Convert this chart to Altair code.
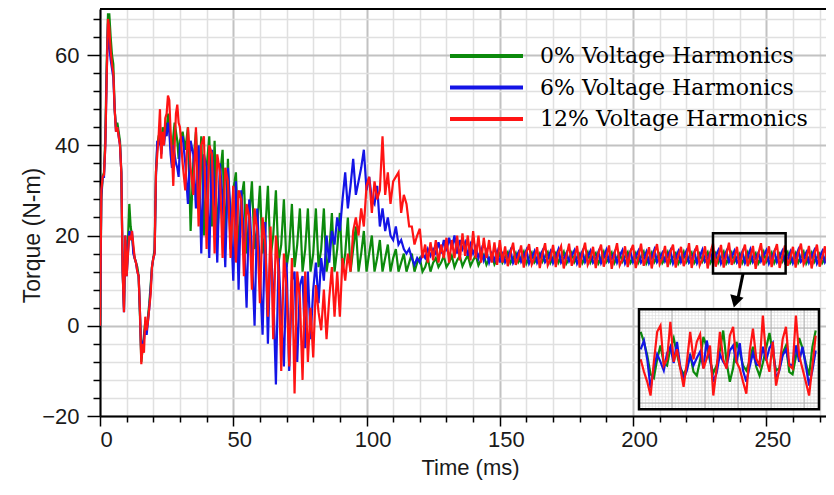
import numpy as np
import pandas as pd
import altair as alt

# ---------------- data ----------------
series_names = ["0% Voltage Harmonics", "6% Voltage Harmonics", "12% Voltage Harmonics"]
series_colors = ["#0c8a0c", "#1414e6", "#ff1414"]

# 0 - 29.5 ms, every 0.5 ms
early_step_ms = 0.5
green_early = [0, 28, 33, 34, 42, 58, 69, 69, 64, 60,
               58, 48, 44, 45, 43, 41, 34, 12, 4, 19,
               12, 19, 27, 22, 20, 17, 15, 14, 13, 11,
               2, -8, -5, -2, 1, -1, 2, 5, 9, 13,
               15, 17, 34, 40, 42, 43, 40, 44, 41, 45,
               43, 47, 44, 40, 36, 42, 45, 43, 41, 37]
blue_early = [0, 29, 33, 33, 40, 55, 67, 62, 59, 57,
              55, 48, 43, 44, 42, 40, 34, 12, 3, 20,
              11, 16, 21, 19, 21, 16, 15, 14, 12, 11,
              3, -7, -4, -3, 0, -2, 1, 4, 8, 13,
              15, 16, 33, 41, 40, 42, 38, 42, 40, 43,
              42, 45, 43, 38, 35, 40, 38, 36, 35, 33]
red_early = [0, 30, 33, 33.5, 40, 55, 68, 66, 61, 58,
             56, 48, 43, 44, 42, 40, 34, 12, 3, 20,
             11, 16, 20, 19, 21, 18, 15, 14, 12, 11,
             3, -8.5, -4, -6, 2, -1, 1, 4, 7, 13,
             15, 16, 34, 38, 42, 48, 37, 43, 40, 46,
             47, 51, 50, 43, 38, 31, 40, 47, 49, 45]

# from 30 ms on, every 1 ms
tail_start_ms = 30
green_tail = [41, 43, 39, 44, 21, 36, 43, 30, 42, 20,
              35, 42, 22, 41, 19, 33, 39, 18, 37, 17,
              30, 34, 16, 28, 32, 16, 24, 32, 17, 22,
              31, 16, 21, 31, 15, 20, 30, 14, 18, 28,
              13, 17, 27, 13, 18, 26, 12, 17, 26, 12,
              16, 26, 13, 17, 26, 12, 16, 25, 12, 17,
              25, 12, 16, 24, 12, 17, 22, 12, 16, 21,
              12, 16, 20, 12, 15, 19, 12, 15, 18, 12,
              15, 17, 12, 14, 16, 12, 14, 16, 12, 14,
              15, 12, 13, 15, 12, 14, 15, 13, 14, 15.5,
              13, 14, 15.5, 13, 14.5, 15.5, 13.2, 14.5, 15.6, 13.3,
              14.5, 15.6, 13.4, 14.6, 15.7, 13.5, 14.8, 15.8, 13.6, 14.8,
              16.0, 14.0, 15.2, 16.3, 13.9, 14.9, 16.1, 14.1, 15.0, 16.4,
              13.8, 15.1, 16.2, 14.0, 14.8, 16.0, 14.2, 15.3, 16.3, 13.9,
              15.0, 16.1, 14.0, 15.2, 16.4, 13.8, 14.9, 16.2, 14.1, 15.1,
              16.0, 13.9, 15.0, 16.3, 14.0, 15.2, 16.1, 13.8, 14.9, 16.4,
              14.1, 15.0, 16.2, 13.9, 15.1, 16.0, 14.2, 15.3, 16.3, 13.9,
              14.8, 16.1, 14.0, 15.2, 16.4, 13.8, 15.0, 16.2, 14.1, 15.1,
              16.0, 13.9, 14.9, 16.3, 14.0, 15.2, 16.1, 13.8, 15.0, 16.4,
              14.1, 15.1, 16.2, 13.9, 14.8, 16.0, 14.2, 15.3, 16.3, 13.9,
              15.0, 16.1, 14.0, 15.2, 16.4, 13.8, 14.9, 16.2, 14.1, 15.1,
              16.0, 13.9, 15.0, 16.3, 14.0, 15.2, 16.1, 13.8, 14.9, 16.4,
              14.1, 15.0, 16.2, 13.9, 15.1, 16.0, 14.2, 15.3, 16.3, 13.9,
              14.8, 16.1, 14.0, 15.2, 16.4, 13.8, 15.0, 16.2, 14.1, 15.1,
              16.0, 13.9, 14.9, 16.3, 14.0, 15.2]
blue_tail = [40, 42, 36, 27, 41, 38, 26, 40, 16, 38,
             35, 15, 39, 30, 14, 36, 28, 13, 35, 25,
             10, 32, 8, 30, 20, 4, 28, 16, 0, 26,
             12, -2, 23, -4, 18, 8, -13, 15, 2, -9,
             14, -10, 10, 12, -8, 9, 11, -5, 12, -3,
             8, 14, 5, 15, 10, 20, 14, 21, 18, 24,
             21, 28, 34, 26, 31, 37, 29, 32, 35, 39,
             30, 33, 28, 27, 31, 22, 26, 21, 24, 20,
             19, 22, 18, 19, 17, 16, 17, 15, 13.5, 15,
             14, 16, 15, 17, 15.5, 17, 16, 18.5, 16, 19,
             16.5, 19.5, 17, 20, 16, 19, 17, 18.5, 15.5, 18,
             16, 17.5, 15, 17, 14.5, 16.5, 14, 16, 14.5, 16.5,
             14.0, 16.4, 14.1, 15.2, 16.7, 13.9, 15.0, 16.3, 14.2, 15.4,
             16.8, 13.8, 15.1, 16.5, 14.0, 15.3, 16.6, 14.1, 14.9, 16.4,
             13.9, 15.2, 16.9, 14.0, 15.0, 16.2, 14.3, 15.5, 16.7, 13.8,
             15.1, 16.5, 14.1, 15.3, 16.6, 14.0, 14.8, 16.4, 13.9, 15.2,
             16.8, 14.2, 15.0, 16.3, 14.0, 15.4, 16.7, 13.8, 15.1, 16.5,
             14.1, 15.3, 16.6, 14.0, 14.9, 16.4, 13.9, 15.2, 16.9, 14.1,
             15.0, 16.2, 14.3, 15.5, 16.7, 13.8, 15.1, 16.5, 14.1, 15.3,
             16.6, 14.0, 14.8, 16.4, 13.9, 15.2, 16.8, 14.2, 15.0, 16.3,
             14.0, 15.4, 16.7, 13.8, 15.1, 16.5, 14.1, 15.3, 16.6, 14.0,
             14.9, 16.4, 13.9, 15.2, 16.9, 14.1, 15.0, 16.2, 14.3, 15.5,
             16.7, 13.8, 15.1, 16.5, 14.1, 15.3, 16.6, 14.0, 14.8, 16.4,
             13.9, 15.2, 16.8, 14.2, 15.0, 16.3, 14.0, 15.4, 16.7, 13.8,
             15.1, 16.5, 14.1, 15.3, 16.6, 14.0]
red_tail = [44, 36, 30, 44, 35, 29, 44, 22, 40, 42,
            17, 40, 38, 16, 38, 34, 15, 35, 32, 15,
            31, 14, 30, 28, 11, 27, 24, 8, 26, 21,
            5, 24, 18, 2, 22, -3, 20, 12, -10, 16,
            8, -9, 15, -15, 12, 6, -12, 12, -8, 4,
            -7, 9, 3, -1, 8, -3, 6, 13, 2, 12,
            2, 15, 10, 16, 12, 21, 24, 20, 26, 22,
            31, 33, 25, 32, 28, 30, 42, 29, 34, 27,
            32, 33, 34, 25, 29, 27, 22, 22, 18, 20,
            21.5, 15, 18, 14, 18.5, 14.5, 19, 14, 18, 15,
            19.5, 14, 19, 15, 20, 14.5, 20.5, 15.5, 20, 14.5,
            21, 15, 20, 14, 19.5, 15, 19, 14, 18.5, 13.5,
            19.0, 14.0, 17.6, 13.2, 16.0, 18.4, 13.5, 15.2, 17.8, 12.9,
            16.3, 18.1, 13.6, 15.0, 17.4, 12.8, 15.9, 18.3, 13.4, 14.8,
            17.9, 13.0, 16.2, 17.6, 12.7, 15.4, 18.2, 13.3, 15.1, 17.7,
            12.9, 16.0, 18.4, 13.5, 14.9, 17.5, 12.8, 16.1, 18.0, 13.1,
            15.3, 17.8, 12.6, 15.8, 18.3, 13.4, 14.7, 17.6, 13.0, 16.4,
            17.9, 12.8, 15.2, 18.2, 13.3, 15.0, 17.4, 12.7, 16.0, 18.1,
            13.6, 14.9, 17.7, 13.0, 16.3, 18.0, 12.9, 15.5, 17.5, 13.2,
            15.1, 18.3, 12.8, 16.1, 17.8, 13.4, 14.8, 17.6, 12.7, 16.2,
            18.2, 13.1, 15.3, 17.9, 12.9, 15.7, 18.4, 13.5, 15.0, 17.5,
            12.8, 16.0, 18.0, 13.2, 15.2, 17.7, 12.6, 15.9, 18.3, 13.4,
            14.9, 17.6, 13.0, 16.3, 18.1, 12.8, 15.4, 17.8, 13.3, 15.0,
            17.5, 12.9, 16.2, 18.2, 13.6, 14.8, 17.7, 12.7, 15.8, 18.0,
            13.1, 15.2, 17.6, 12.9, 16.0, 17.9]

# inset (magnified window), every 0.5 ms
inset_start_ms = 230.25
inset_step_ms = 0.5
inset_green = [17.7, 16.9, 15.8, 14.3, 14.0, 15.5, 16.6, 15.2, 15.0, 16.4,
               17.2, 15.9, 14.8, 14.3, 14.8, 15.9, 14.5, 14.2, 15.4, 17.3,
               16.5, 15.4, 14.4, 15.0, 16.2, 17.8, 15.3, 13.7, 14.8, 16.9,
               16.1, 15.0, 14.6, 15.4, 16.5, 14.9, 14.2, 15.2, 16.4, 17.6,
               16.0, 14.6, 14.8, 16.0, 16.6, 14.5, 14.3, 15.7, 17.2, 16.4,
               15.2, 14.2, 16.5, 17.8]
inset_blue = [16.3, 17.0, 15.5, 13.2, 14.8, 15.9, 15.3, 14.6, 16.0, 16.5,
              15.2, 16.9, 14.9, 13.9, 14.6, 15.8, 15.0, 15.6, 16.1, 14.8,
              17.0, 15.6, 13.7, 14.4, 15.9, 15.3, 14.9, 16.2, 16.6, 15.2,
              16.8, 14.6, 13.7, 14.9, 16.0, 15.1, 15.0, 16.5, 15.4, 16.4,
              16.8, 13.9, 14.6, 15.8, 16.3, 15.1, 15.0, 16.6, 15.3, 16.5,
              15.0, 13.4, 14.6, 16.2]
inset_red = [15.5, 14.5, 13.7, 12.6, 15.3, 17.7, 18.2, 15.0, 15.5, 18.5,
             15.3, 16.3, 14.75, 13.3, 15.3, 17.7, 15.5, 16.9, 17.5, 14.75,
             15.55, 16.6, 12.6, 14.75, 17.7, 15.5, 14.75, 17.4, 18.1, 15.3,
             14.75, 13.7, 12.75, 16.1, 17.95, 15.55, 15.0, 19.0, 15.55, 14.5,
             16.9, 13.4, 14.75, 17.1, 18.1, 15.0, 14.75, 19.0, 15.8, 14.75,
             13.7, 12.6, 15.0, 17.4]

# axes / frame (the picture is cut at its right edge, a little past 270 ms)
x_domain = [0, 272.4]
y_domain = [-20, 70.2]
x_ticks = list(range(0, 271, 10))
y_ticks = list(range(-20, 69, 4))

# zoom window drawn on the main plot and its magnified copy
zoom_t = [230, 257.25]
zoom_v = [11.6, 20.5]
inset_v = [11.5, 19.5]
inset_px_x = [539, 719]
inset_px_y = [400.3, 300.3]

# arrow from the zoom window to the inset (data units of the main plot)
arrow_t = [241.3, 239.4]
arrow_v = [11.6, 6.2]
arrow_head_t = [238.4]
arrow_head_v = [5.3]

# ---------------- frames ----------------
def series_frame(name, early, tail):
    t = np.concatenate([np.arange(len(early)) * early_step_ms,
                        tail_start_ms + np.arange(len(tail))])
    v = np.concatenate([np.array(early, float), np.array(tail, float)])
    return pd.DataFrame({"t": t, "v": v, "series": name})


def inset_frame(name, vals):
    t = inset_start_ms + np.arange(len(vals)) * inset_step_ms
    return pd.DataFrame({"t": t, "v": vals, "series": name})


main_frames = [series_frame(series_names[0], green_early, green_tail),
               series_frame(series_names[1], blue_early, blue_tail),
               series_frame(series_names[2], red_early, red_tail)]
inset_frames = [inset_frame(series_names[0], inset_green),
                inset_frame(series_names[1], inset_blue),
                inset_frame(series_names[2], inset_red)]

# ---------------- encodings ----------------
x_scale = alt.Scale(domain=x_domain, nice=False, zero=False)
y_scale = alt.Scale(domain=y_domain, nice=False, zero=False)

x_axis = alt.Axis(
    values=x_ticks,
    labelExpr="datum.value % 50 === 0 ? datum.label : ''",
    labelOverlap=False, labelFlush=False, labelOffset=6, labelPadding=3,
    labelFontSize=22,
    tickSize={"condition": {"test": "datum.value % 50 === 0", "value": 10}, "value": 6},
    tickWidth=1.5,
    gridColor={"condition": {"test": "datum.value % 50 === 0", "value": "#c2c2c2"}, "value": "#e0e0e0"},
    gridWidth={"condition": {"test": "datum.value % 50 === 0", "value": 2}, "value": 1.5},
    domainWidth=2,
    title="Time (ms)", titleFontSize=22, titleFontWeight="normal",
    titleX=370, titleY=51, titleAlign="center", titleBaseline="middle",
)
y_axis = alt.Axis(
    values=y_ticks,
    labelExpr="datum.value % 20 === 0 ? datum.label : ''",
    labelOverlap=False, labelFlush=False, labelPadding=8, labelFontSize=22,
    tickSize={"condition": {"test": "datum.value % 20 === 0", "value": 13}, "value": 7},
    tickWidth=1.5,
    gridColor={"condition": {"test": "datum.value % 20 === 0", "value": "#c2c2c2"}, "value": "#e0e0e0"},
    gridWidth={"condition": {"test": "datum.value % 20 === 0", "value": 2}, "value": 1.5},
    domainWidth=2,
    title="Torque (N-m)", titleFontSize=23, titleFontWeight="normal",
    titleX=-68, titleY=226, titleAngle=270, titleAlign="center", titleBaseline="middle",
)

X = dict(scale=x_scale, axis=x_axis)
Y = dict(scale=y_scale, axis=y_axis)

color = alt.Color(
    "series:N",
    scale=alt.Scale(domain=series_names, range=series_colors),
    legend=alt.Legend(
        orient="none", legendX=348, legendY=33, title=None, padding=0,
        symbolType="stroke", symbolSize=5329, symbolStrokeWidth=4,
        clipHeight=28, rowPadding=3.5, symbolOffset=0,
        labelFont="DejaVu Serif", labelFontSize=22, labelColor="black",
        labelOffset=15, labelLimit=600,
    ),
)

main_lines = [
    alt.Chart(df).mark_line(strokeWidth=2.2, clip=True).encode(
        x=alt.X("t:Q", **X), y=alt.Y("v:Q", **Y), color=color,
    )
    for df in main_frames
]

top_frame = alt.Chart(pd.DataFrame({"v": [y_domain[1]]})).mark_rule(
    color="black", strokeWidth=2
).encode(y=alt.Y("v:Q", **Y))

zoom_df = pd.DataFrame({"t0": [zoom_t[0]], "t1": [zoom_t[1]], "v0": [zoom_v[0]], "v1": [zoom_v[1]]})
zoom_box = alt.Chart(zoom_df).mark_rect(
    fillOpacity=0, stroke="black", strokeWidth=2.5
).encode(
    x=alt.X("t0:Q", **X), x2="t1:Q",
    y=alt.Y("v0:Q", **Y), y2="v1:Q",
)

arrow_line = alt.Chart(pd.DataFrame({"t": arrow_t, "v": arrow_v})).mark_line(
    color="black", strokeWidth=3
).encode(x=alt.X("t:Q", **X), y=alt.Y("v:Q", **Y))

arrow_head = alt.Chart(pd.DataFrame({"t": arrow_head_t, "v": arrow_head_v})).mark_point(
    shape="triangle-down", filled=True, color="black", opacity=1, size=190, angle=15
).encode(x=alt.X("t:Q", **X), y=alt.Y("v:Q", **Y))

main = alt.layer(*main_lines, top_frame, zoom_box, arrow_line, arrow_head)

# ---------------- inset ----------------
ix_scale = alt.Scale(domain=zoom_t, range=inset_px_x, nice=False, zero=False)
iy_scale = alt.Scale(domain=inset_v, range=inset_px_y, nice=False, zero=False)

inset_box_df = pd.DataFrame({"t0": [zoom_t[0]], "t1": [zoom_t[1]], "v0": [inset_v[0]], "v1": [inset_v[1]]})


def box_layer(**mark):
    return alt.Chart(inset_box_df).mark_rect(**mark).encode(
        x=alt.X("t0:Q", scale=ix_scale, axis=None), x2="t1:Q",
        y=alt.Y("v0:Q", scale=iy_scale, axis=None), y2="v1:Q",
    )


vgrid_t = np.arange(zoom_t[0], zoom_t[1] + 0.01, 0.5)
hgrid_v = np.arange(inset_v[0], inset_v[1] + 0.01, 0.25)
vgrid = pd.DataFrame({"t": vgrid_t, "v0": inset_v[0], "v1": inset_v[1]})
hgrid = pd.DataFrame({"v": hgrid_v, "t0": zoom_t[0], "t1": zoom_t[1]})


def vgrid_layer(df, col, w):
    return alt.Chart(df).mark_rule(color=col, strokeWidth=w).encode(
        x=alt.X("t:Q", scale=ix_scale, axis=None),
        y=alt.Y("v0:Q", scale=iy_scale, axis=None), y2="v1:Q",
    )


def hgrid_layer(df, col, w):
    return alt.Chart(df).mark_rule(color=col, strokeWidth=w).encode(
        y=alt.Y("v:Q", scale=iy_scale, axis=None),
        x=alt.X("t0:Q", scale=ix_scale, axis=None), x2="t1:Q",
    )


inset_lines = [
    alt.Chart(df).mark_line(strokeWidth=2.2).encode(
        x=alt.X("t:Q", scale=ix_scale, axis=None),
        y=alt.Y("v:Q", scale=iy_scale, axis=None),
        color=color,
    )
    for df in inset_frames
]

inset = alt.layer(
    box_layer(fill="white", strokeWidth=0),
    vgrid_layer(vgrid, "#dedede", 0.7),
    hgrid_layer(hgrid, "#dedede", 0.7),
    vgrid_layer(vgrid[np.isclose(vgrid_t % 5, 0)], "#b0b0b0", 1),
    hgrid_layer(hgrid[np.isclose(hgrid_v % 2, 0)], "#b0b0b0", 1),
    *inset_lines,
    box_layer(fillOpacity=0, stroke="black", strokeWidth=2.5),
)

chart = (
    alt.layer(main, inset)
    .resolve_scale(x="independent", y="independent")
    .properties(
        width=726, height=407,
        padding={"left": 92, "top": 1, "right": 0, "bottom": 68},
        autosize=alt.AutoSizeParams(type="none"),
    )
    .configure_view(stroke=None)
    .configure_axis(
        labelFont="Liberation Sans", titleFont="Liberation Sans",
        labelColor="#1a1a1a", titleColor="#1a1a1a",
        domainColor="black", tickColor="black",
    )
)

chart.save("out.html", embed_options={"renderer": "svg", "actions": False})
